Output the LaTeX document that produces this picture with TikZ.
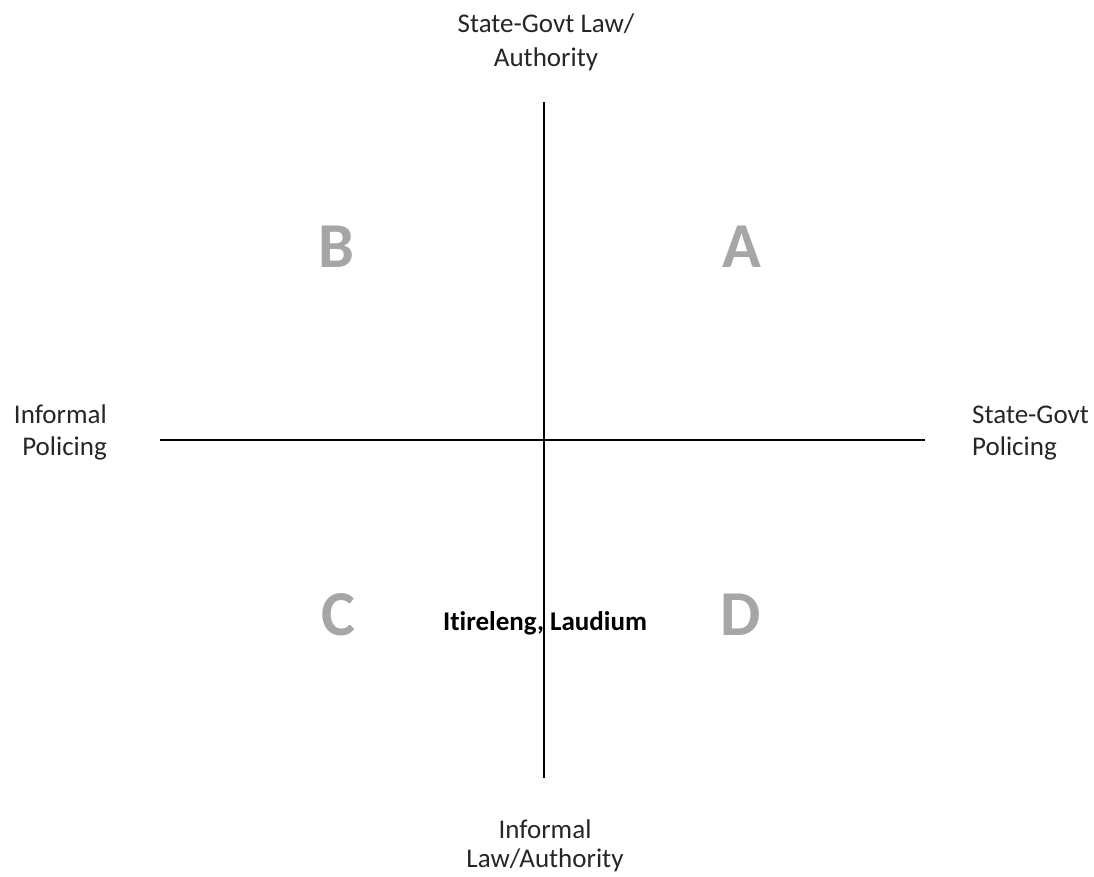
\documentclass[tikz,border=0pt]{standalone}
\usepackage{fontspec}
\setmainfont{Carlito}[Ligatures={NoCommon}]
\definecolor{txt}{HTML}{262626}
\definecolor{quad}{HTML}{A6A6A6}
\tikzset{
  lbl/.style={inner sep=0pt, text=txt, font=\fontsize{27}{33}\selectfont, anchor=base},
  quadletter/.style={inner sep=0pt, text=quad, font=\fontsize{64}{70}\selectfont\bfseries, anchor=base},
  place/.style={inner sep=0pt, text=black, font=\fontsize{27}{33}\selectfont\bfseries, anchor=base},
  axis/.style={draw=black, line width=1.3pt}
}
\begin{document}
\begin{tikzpicture}[x=1pt,y=-1pt]
\useasboundingbox (0,0) rectangle (1094,877);
\fill[white] (0,0) rectangle (1094,877);
\coordinate (vtop) at (544,102);
\coordinate (vbot) at (544,778);
\coordinate (hleft) at (160,440);
\coordinate (hright) at (925,440);
\draw[axis] (vtop) -- (vbot);
\draw[axis] (hleft) -- (hright);
% top label
\node[lbl] (t1) at (546,33) {State-Govt Law/};
\node[lbl] (t2) at (546,67) {Authority};
% bottom label
\node[lbl] (b1) at (545,838) {Informal};
\node[lbl] (b2) at (545,867) {Law/Authority};
% left label
\node[lbl, anchor=base east] (l1) at (107,423) {Informal};
\node[lbl, anchor=base east] (l2) at (107,455) {Policing};
% right label
\node[lbl, anchor=base west] (r1) at (972,423) {State-Govt};
\node[lbl, anchor=base west] (r2) at (972,455) {Policing};
% quadrant letters
\node[quadletter] (qA) at (742,267) {A};
\node[quadletter] (qB) at (336,267) {B};
\node[quadletter] (qC) at (338,635) {C};
\node[quadletter] (qD) at (741,635) {D};
% place label
\node[place] (itl) at (545,630) {Itireleng, Laudium};
\end{tikzpicture}
\end{document}
